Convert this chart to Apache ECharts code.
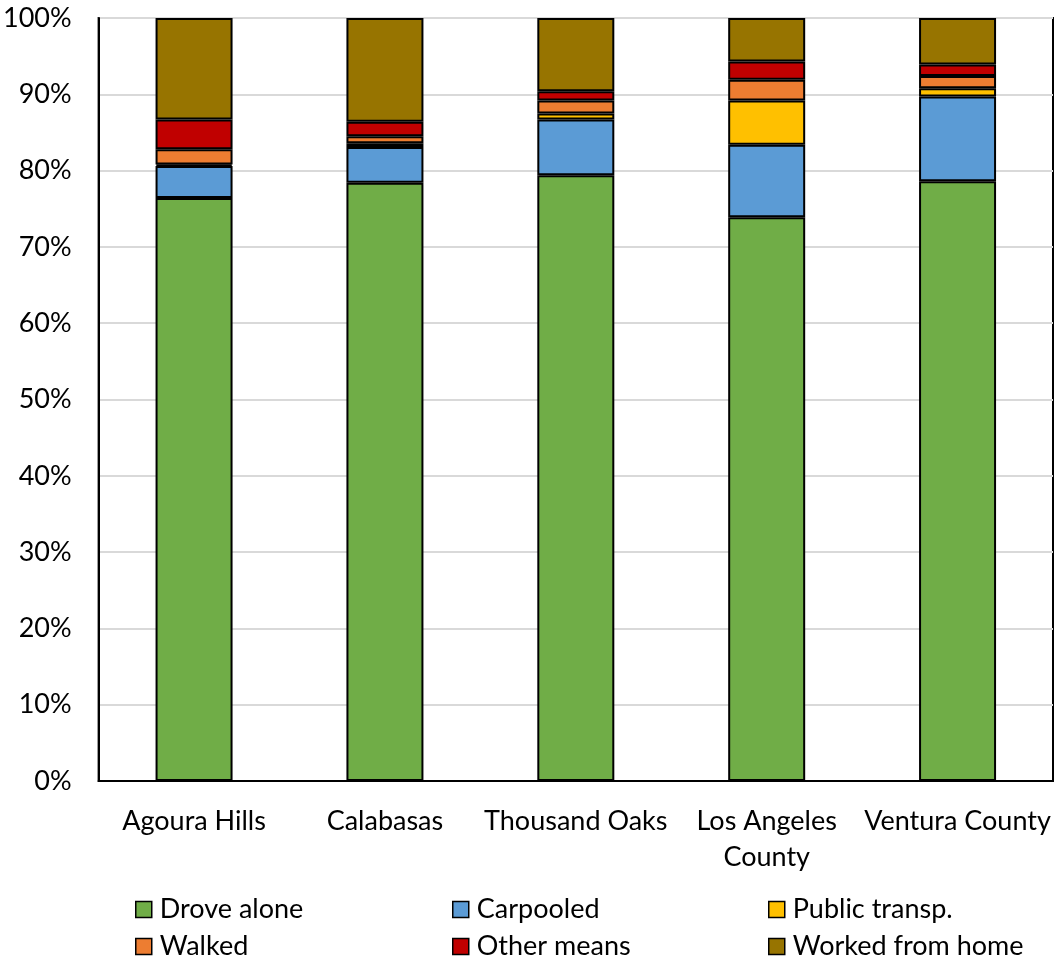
<!DOCTYPE html>
<html>
<head>
<meta charset="utf-8">
<script src="https://cdn.jsdelivr.net/npm/echarts@6/dist/echarts.min.js"></script>
<style>
  html, body { margin: 0; padding: 0; background: #fff; }
  #chart { width: 1055px; height: 961px; }
</style>
</head>
<body>
<div id="chart"></div>
<script>
// Means of transportation to work, share of workers (%)
const categories = ['Agoura Hills', 'Calabasas', 'Thousand Oaks', 'Los Angeles\nCounty', 'Ventura County'];
const droveAlone     = [76.4, 78.4, 79.4, 73.9, 78.6];
const carpooled      = [4.2, 4.7, 7.3, 9.5, 11.1];
const publicTransp   = [0.2, 0.5, 0.8, 5.8, 1.1];
const walked         = [2.0, 0.9, 1.7, 2.7, 1.6];
const otherMeans     = [3.9, 1.9, 1.2, 2.4, 1.5];
const workedFromHome = [13.3, 13.6, 9.6, 5.7, 6.1];
const yTicks = [0, 10, 20, 30, 40, 50, 60, 70, 80, 90, 100];

const FONT = 'Lato';
const FONT_SIZE = 27;
const seriesDefs = [
  { name: 'Drove alone', data: droveAlone, color: '#70ad47' },
  { name: 'Carpooled', data: carpooled, color: '#5b9bd5' },
  { name: 'Public transp.', data: publicTransp, color: '#ffc000' },
  { name: 'Walked', data: walked, color: '#ed7d31' },
  { name: 'Other means', data: otherMeans, color: '#c00000' },
  { name: 'Worked from home', data: workedFromHome, color: '#977400' }
];

// legend laid out as a 3-column, 2-row grid
const legendCols = [135, 452, 768];
const legendRows = [896, 933];
const legends = seriesDefs.map((s, i) => ({
  data: [s.name],
  left: legendCols[i % 3],
  top: legendRows[Math.floor(i / 3)],
  itemWidth: 16,
  itemHeight: 16,
  itemGap: 0,
  icon: 'rect',
  selectedMode: false,
  itemStyle: { borderColor: '#000', borderWidth: 1.5 },
  textStyle: { fontFamily: FONT, fontSize: FONT_SIZE, color: '#000', padding: [0, 0, 0, 3] },
  padding: 0
}));

const chart = echarts.init(document.getElementById('chart'), null, { renderer: 'canvas' });
chart.setOption({
  animation: false,
  backgroundColor: '#fff',
  legend: legends,
  grid: { left: 97, top: 18, right: 2, bottom: 180, show: true, borderColor: '#000', borderWidth: 2 },
  xAxis: {
    type: 'category',
    data: categories,
    axisLine: { lineStyle: { color: '#000', width: 2 } },
    axisTick: { show: false },
    axisLabel: {
      fontFamily: FONT, fontSize: FONT_SIZE, color: '#000', margin: 22, lineHeight: 36, interval: 0
    }
  },
  yAxis: {
    type: 'value',
    min: 0,
    max: 100,
    interval: 10,
    axisLine: { show: true, lineStyle: { color: '#000', width: 2 } },
    axisTick: { show: false },
    splitLine: { lineStyle: { color: '#d9d9d9', width: 2 } },
    axisLabel: {
      fontFamily: FONT, fontSize: FONT_SIZE, color: '#000', margin: 27,
      formatter: v => yTicks.includes(v) ? v + '%' : ''
    }
  },
  series: seriesDefs.map(s => ({
    name: s.name,
    type: 'bar',
    stack: 'total',
    data: s.data,
    barWidth: 77,
    itemStyle: { color: s.color, borderColor: '#000', borderWidth: 2 }
  }))
});
</script>
</body>
</html>
